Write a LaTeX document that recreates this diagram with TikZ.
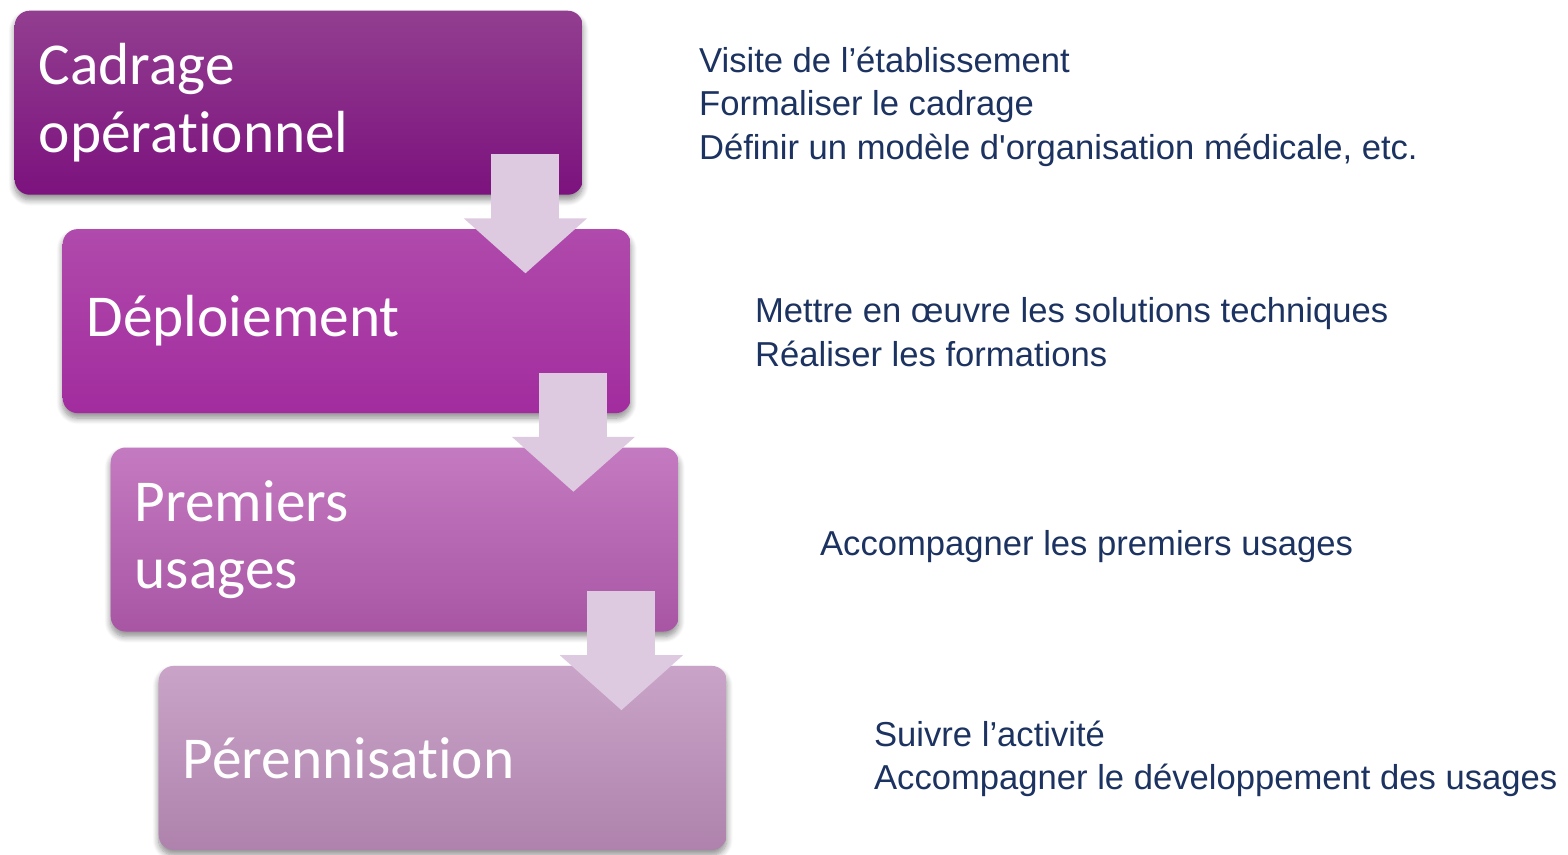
\documentclass[tikz,border=0pt]{standalone}
\usepackage{fontspec}
\usepackage{xcolor}
\usetikzlibrary{positioning,arrows.meta,shadows.blur}
\newfontfamily\stagefont[Ligatures=NoCommon]{Carlito}
\newfontfamily\notefont{Liberation Sans}

\definecolor{cadtop}{RGB}{146,62,144}
\definecolor{cadbot}{RGB}{124,18,126}
\definecolor{deptop}{RGB}{176,74,172}
\definecolor{depbot}{RGB}{162,44,158}
\definecolor{pretop}{RGB}{196,122,192}
\definecolor{prebot}{RGB}{168,86,164}
\definecolor{pertop}{RGB}{202,164,200}
\definecolor{perbot}{RGB}{174,130,172}
\definecolor{arrowgrey}{RGB}{222,202,224}
\definecolor{notenavy}{RGB}{28,50,96}

\tikzset{
	stage/.style={rounded corners=0.15cm, minimum width=5.68cm, minimum height=1.84cm,
		text width=5.20cm, inner xsep=0.24cm, align=left, anchor=north west,
		text=white, font=\stagefont\fontsize{16.9}{19.2}\selectfont,
		blur shadow={shadow xshift=0pt, shadow yshift=-0.05cm, shadow blur steps=8, shadow opacity=45}},
	note/.style={anchor=west, align=left, text=notenavy, inner sep=0pt,
		font=\notefont\fontsize{9.85}{12.4}\selectfont},
	stagearrow/.style={draw=arrowgrey, line width=0.68cm,
		-{Triangle[width=1.20cm, length=0.55cm, fill=arrowgrey]}}
}

\begin{document}
\begin{tikzpicture}
	\useasboundingbox (0,0) rectangle (15.68,-8.55);

	% stages
	\node[stage, top color=cadtop, bottom color=cadbot] (cad) at (0.14,-0.10) {Cadrage\\op\'erationnel};
	\node[stage, top color=deptop, bottom color=depbot] (dep) at ([xshift=0.48cm, yshift=-0.33cm]cad.south west) {D\'eploiement};
	\node[stage, top color=pretop, bottom color=prebot] (pre) at ([xshift=0.48cm, yshift=-0.33cm]dep.south west) {Premiers\\usages};
	\node[stage, top color=pertop, bottom color=perbot] (per) at ([xshift=0.48cm, yshift=-0.33cm]pre.south west) {P\'erennisation};

	% arrows between stages
	\foreach \a/\b in {cad/dep, dep/pre, pre/per} {
		\coordinate (\a-out) at ([xshift=-0.58cm, yshift=0.41cm]\a.south east);
		\coordinate (\b-in) at ([yshift=-0.45cm]\b.north);
		\draw[stagearrow] (\a-out) -- (\a-out |- \b-in);
	}

	% notes
	\node[note] (cadnote) at ([xshift=1.15cm, yshift=-0.04cm]cad.east) {Visite de l’établissement\\Formaliser le cadrage\\Définir un modèle d'organisation médicale, etc.};
	\node[note] (depnote) at ([xshift=1.23cm, yshift=-0.11cm]dep.east) {Mettre en œuvre les solutions techniques\\Réaliser les formations};
	\node[note] (prenote) at ([xshift=1.40cm, yshift=-0.07cm]pre.east) {Accompagner les premiers usages};
	\node[note] (pernote) at ([xshift=1.46cm, yshift=-0.01cm]per.east) {Suivre l’activité\\Accompagner le développement des usages};
\end{tikzpicture}
\end{document}
